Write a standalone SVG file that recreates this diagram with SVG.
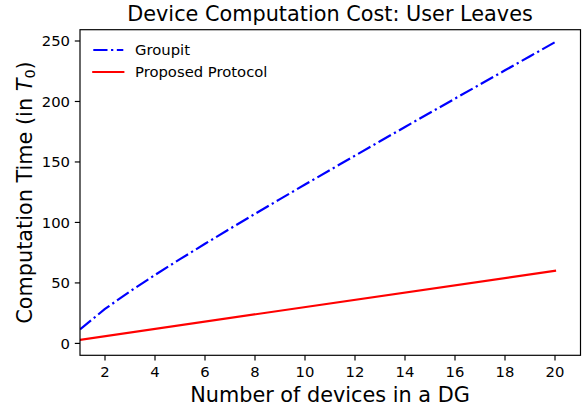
<svg xmlns="http://www.w3.org/2000/svg" width="583" height="412" viewBox="0 0 583 412">
  <style>
    text { font-family: "DejaVu Sans", "Liberation Sans", sans-serif; fill: #000; }
    .tick { font-size: 14.8px; }
    .label { font-size: 20.8px; }
    .title { font-size: 20.8px; }
    .legend { font-size: 14.8px; }
    .tickmark { stroke: #000; stroke-width: 1.18; }
    .spine { fill: none; stroke: #000; stroke-width: 1.18; stroke-linecap: square; }
    .groupit { fill: none; stroke: #0000ff; stroke-width: 2.2; stroke-dasharray: 14.2 3.55 2.22 3.55; stroke-linejoin: round; }
    .proposed { fill: none; stroke: #ff0000; stroke-width: 2.2; stroke-linecap: square; }
  </style>
  <defs>
    <clipPath id="plot-area">
      <rect x="80" y="29.7" width="500.5" height="325.6"/>
    </clipPath>
  </defs>

  <rect x="0" y="0" width="583" height="412" fill="#ffffff"/>
  <rect x="80" y="29.7" width="500.5" height="325.6" fill="#ffffff"/>

  <!-- series -->
  <g id="connectors" clip-path="url(#plot-area)">
    <polyline id="series-groupit" class="groupit" points="80,329.37 105,308.93 130,291.35 155,274.94 180,259.16 205,243.81 230,228.73 255,213.85 280,199.13 305,184.54 330,170.04 355,155.63 380,141.28 405,127.0 430,112.77 455,98.58 480,84.43 505,70.31 530,56.23 555,42.16"/>
    <line id="series-proposed" class="proposed" x1="80" y1="339.77" x2="555" y2="270.82"/>
  </g>

  <!-- axes frame -->
  <g id="axes-frame">
    <rect class="spine" x="80" y="29.7" width="500.5" height="325.6"/>
  </g>

  <!-- x axis ticks -->
  <g id="x-axis">
    <g class="tickmark">
      <line x1="105" y1="355.3" x2="105" y2="360.5"/>
      <line x1="155" y1="355.3" x2="155" y2="360.5"/>
      <line x1="205" y1="355.3" x2="205" y2="360.5"/>
      <line x1="255" y1="355.3" x2="255" y2="360.5"/>
      <line x1="305" y1="355.3" x2="305" y2="360.5"/>
      <line x1="355" y1="355.3" x2="355" y2="360.5"/>
      <line x1="405" y1="355.3" x2="405" y2="360.5"/>
      <line x1="455" y1="355.3" x2="455" y2="360.5"/>
      <line x1="505" y1="355.3" x2="505" y2="360.5"/>
      <line x1="555" y1="355.3" x2="555" y2="360.5"/>
    </g>
    <g class="tick" text-anchor="middle">
      <text x="105" y="377.3">2</text>
      <text x="155" y="377.3">4</text>
      <text x="205" y="377.3">6</text>
      <text x="255" y="377.3">8</text>
      <text x="305" y="377.3">10</text>
      <text x="355" y="377.3">12</text>
      <text x="405" y="377.3">14</text>
      <text x="455" y="377.3">16</text>
      <text x="505" y="377.3">18</text>
      <text x="555" y="377.3">20</text>
    </g>
    <text class="label" x="330" y="402.3" text-anchor="middle">Number of devices in a DG</text>
  </g>

  <!-- y axis ticks -->
  <g id="y-axis">
    <g class="tickmark">
      <line x1="74.8" y1="343.4" x2="80" y2="343.4"/>
      <line x1="74.8" y1="282.92" x2="80" y2="282.92"/>
      <line x1="74.8" y1="222.44" x2="80" y2="222.44"/>
      <line x1="74.8" y1="161.96" x2="80" y2="161.96"/>
      <line x1="74.8" y1="101.48" x2="80" y2="101.48"/>
      <line x1="74.8" y1="41.0" x2="80" y2="41.0"/>
    </g>
    <g class="tick" text-anchor="end">
      <text x="70" y="348.7">0</text>
      <text x="70" y="288.2">50</text>
      <text x="70" y="227.7">100</text>
      <text x="70" y="167.3">150</text>
      <text x="70" y="106.8">200</text>
      <text x="70" y="46.3">250</text>
    </g>
    <text class="label" transform="translate(32,192.5) rotate(-90)" text-anchor="middle">Computation Time (in <tspan font-style="italic">T</tspan><tspan font-size="14.5" dy="3.2">0</tspan><tspan dy="-3.2">)</tspan></text>
  </g>

  <!-- title -->
  <text id="title" class="title" x="330" y="20.9" text-anchor="middle">Device Computation Cost: User Leaves</text>

  <!-- legend -->
  <g id="legend">
    <g id="legend-groupit">
      <line class="groupit" x1="93.3" y1="50" x2="123.3" y2="50"/>
      <text class="legend" x="135" y="55.3">Groupit</text>
    </g>
    <g id="legend-proposed">
      <line class="proposed" x1="93.3" y1="72" x2="123.3" y2="72"/>
      <text class="legend" x="135" y="77.3">Proposed Protocol</text>
    </g>
  </g>
</svg>
